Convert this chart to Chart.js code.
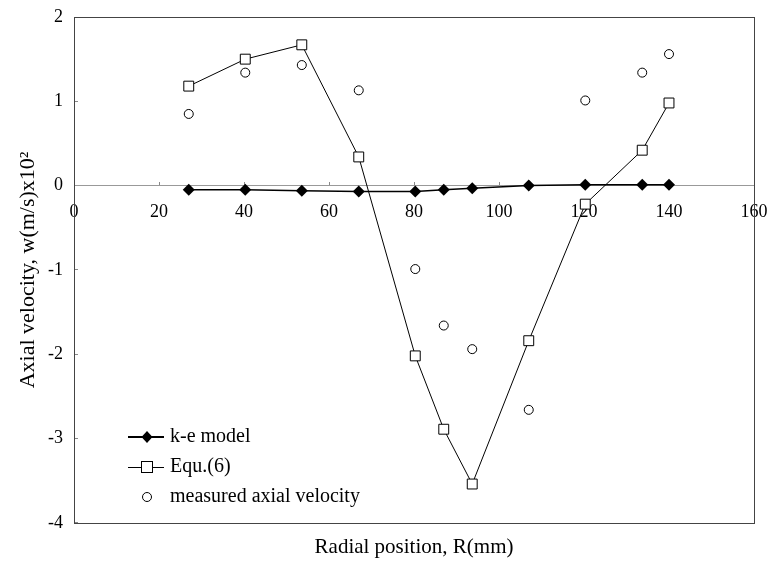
<!DOCTYPE html>
<html>
<head>
<meta charset="utf-8">
<script src="https://cdn.jsdelivr.net/npm/chart.js@4/dist/chart.umd.min.js"></script>
<style>
  html, body { margin: 0; padding: 0; background: #fff; }
  #wrap { width: 767px; height: 567px; }
</style>
</head>
<body>
<div id="wrap"><canvas id="c" width="767" height="567"></canvas></div>
<script>
// Radial positions of the measuring stations (mm)
const radialPositions = [27, 40.3, 53.6, 67, 80.3, 87, 93.7, 107, 120.3, 133.7, 140];
// Axial velocity, w (m/s) x 10^2
const keModel  = [-0.05, -0.05, -0.06, -0.07, -0.07, -0.05, -0.03, 0.0, 0.01, 0.01, 0.01];
const equ6     = [1.18, 1.50, 1.67, 0.34, -2.02, -2.89, -3.54, -1.84, -0.22, 0.42, 0.98];
const measured = [0.85, 1.34, 1.43, 1.13, -0.99, -1.66, -1.94, -2.66, 1.01, 1.34, 1.56];

const seriesNames = ['k-e model', 'Equ.(6)', 'measured axial velocity'];
const xRange = [0, 160];
const yRange = [-4, 2];
const xTitle = 'Radial position, R(mm)';
const yTitle = 'Axial velocity, w(m/s)x10\u00B2';

const FONT = 'Liberation Serif, Times New Roman, serif';
Chart.defaults.font.family = FONT;
Chart.defaults.color = '#000';

const pts = (ys) => radialPositions.map((x, i) => ({ x, y: ys[i] }));

// Legend keys: a short line with the series marker on it
function legendKey(kind) {
  const c = document.createElement('canvas');
  c.width = 88; c.height = 20;
  const g = c.getContext('2d');
  const cx = 69, cy = 10;
  g.strokeStyle = '#000';
  if (kind === 'diamond') {
    g.lineWidth = 2;
    g.beginPath(); g.moveTo(50, cy); g.lineTo(86, cy); g.stroke();
  } else if (kind === 'square') {
    g.lineWidth = 1;
    g.beginPath(); g.moveTo(50, cy + 0.5); g.lineTo(86, cy + 0.5); g.stroke();
  }
  g.lineWidth = 1;
  if (kind === 'diamond') {
    g.fillStyle = '#000';
    g.beginPath();
    g.moveTo(cx, cy - 6); g.lineTo(cx + 5.5, cy); g.lineTo(cx, cy + 6); g.lineTo(cx - 5.5, cy);
    g.closePath(); g.fill();
  } else if (kind === 'square') {
    g.fillStyle = '#fff';
    g.fillRect(cx - 5, cy - 5, 11, 11);
    g.strokeRect(cx - 5.5, cy - 5.5, 11, 11);
  } else {
    g.fillStyle = '#fff';
    g.beginPath(); g.arc(cx, cy, 4.5, 0, Math.PI * 2); g.fill(); g.stroke();
  }
  return c;
}
const keys = [legendKey('diamond'), legendKey('square'), legendKey('circle')];

// Outline of the plotting area, and legend box kept inside it
const frame = {
  id: 'frame',
  afterLayout(chart) {
    const lg = chart.legend, a = chart.chartArea;
    if (lg) { lg.top = a.top; lg.bottom = Math.round(a.bottom) - 6; }
  },
  beforeDatasetsDraw(chart) {
    const { ctx, chartArea: a } = chart;
    ctx.save();
    ctx.strokeStyle = '#444';
    ctx.lineWidth = 1;
    ctx.strokeRect(Math.round(a.left) + 0.5, Math.round(a.top) + 0.5,
                   Math.round(a.right - a.left), Math.round(a.bottom - a.top));
    ctx.restore();
  }
};

new Chart(document.getElementById('c'), {
  type: 'scatter',
  data: {
    datasets: [
      {
        label: seriesNames[0],
        data: pts(keModel),
        showLine: true,
        borderColor: '#000',
        borderWidth: 1.5,
        backgroundColor: '#000',
        pointStyle: 'rectRot',
        pointRadius: 6,
        pointBorderWidth: 0,
        pointHoverRadius: 6
      },
      {
        label: seriesNames[1],
        data: pts(equ6),
        showLine: true,
        borderColor: '#000',
        borderWidth: 1,
        pointStyle: 'rect',
        pointRadius: 7,
        pointBackgroundColor: '#fff',
        pointBorderColor: '#000',
        pointBorderWidth: 1,
        pointHoverRadius: 7
      },
      {
        label: seriesNames[2],
        data: pts(measured),
        showLine: false,
        pointStyle: 'circle',
        pointRadius: 4.5,
        pointBackgroundColor: '#fff',
        pointBorderColor: '#000',
        pointBorderWidth: 1,
        pointHoverRadius: 4.5
      }
    ]
  },
  options: {
    responsive: false,
    animation: false,
    layout: { padding: { top: 17, right: 13, bottom: 0, left: 0 } },
    scales: {
      x: {
        type: 'linear',
        position: { y: 0 },
        min: xRange[0],
        max: xRange[1],
        ticks: { stepSize: 20, maxRotation: 0, padding: 20, font: { size: 18 }, color: '#000' },
        grid: { drawOnChartArea: false, drawTicks: true, tickLength: -4, color: '#888' },
        border: { color: '#999', width: 1 },
        afterFit(scale) {
          scale.paddingLeft = 0;
          scale.paddingRight = 0;
        }
      },
      y: {
        type: 'linear',
        position: 'left',
        min: yRange[0],
        max: yRange[1],
        ticks: { stepSize: 1, padding: 15, font: { size: 18 }, color: '#000' },
        grid: { drawOnChartArea: false, drawTicks: true, tickLength: -4, color: '#888' },
        border: { color: '#333', width: 1 },
        title: { display: true, text: yTitle, font: { size: 22 }, color: '#000', padding: { top: 15, bottom: 0 } },
        afterFit(scale) {
          scale.width = 74;
          scale.paddingTop = 0;
          scale.paddingBottom = 0;
        }
      }
    },
    plugins: {
      title: {
        display: true,
        position: 'bottom',
        fullSize: false,
        text: xTitle,
        font: { size: 21, weight: 'normal' },
        color: '#000',
        padding: { top: 12, bottom: 7 }
      },
      legend: {
        position: 'chartArea',
        align: 'end',
        labels: {
          usePointStyle: true,
          pointStyleWidth: 76,
          padding: 10,
          font: { size: 20 },
          color: '#000',
          generateLabels() {
            return seriesNames.map((t, i) => ({
              text: t, pointStyle: keys[i], datasetIndex: i, hidden: false, lineWidth: 0,
              fillStyle: '#000', strokeStyle: '#000'
            }));
          }
        },
        onClick() {}
      },
      tooltip: { enabled: false }
    }
  },
  plugins: [frame]
});
</script>
</body>
</html>
